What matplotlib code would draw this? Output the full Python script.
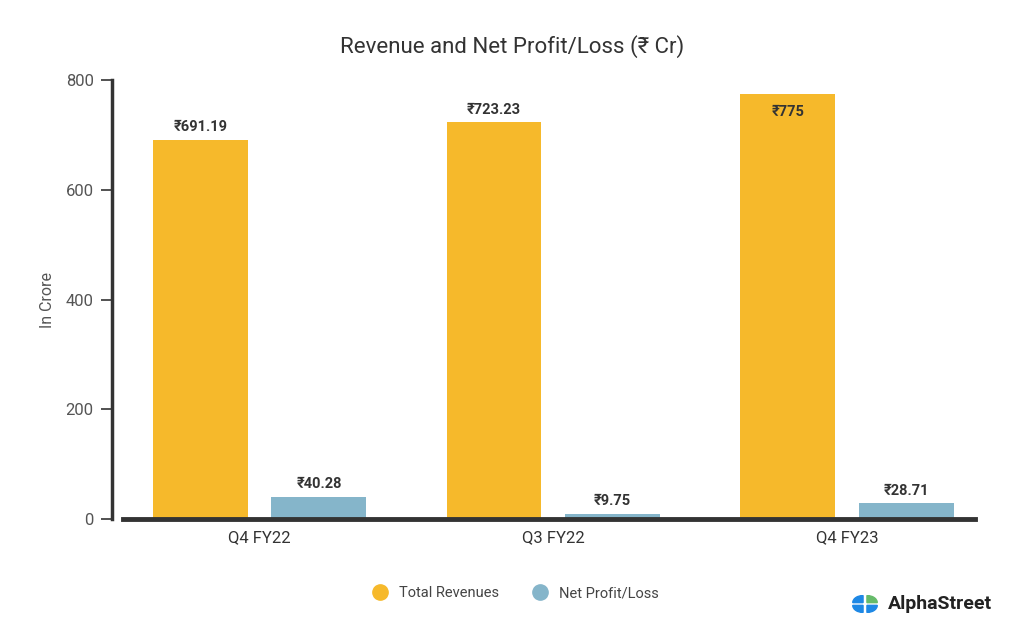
import numpy as np
import matplotlib
matplotlib.use("Agg")
import matplotlib.pyplot as plt
from matplotlib.patches import Wedge
from matplotlib.lines import Line2D

# data
quarters = ["Q4 FY22", "Q3 FY22", "Q4 FY23"]
revenue = [691.19, 723.23, 775]
net_profit = [40.28, 9.75, 28.71]
rev_labels = ["₹691.19", "₹723.23", "₹775"]
np_labels = ["₹40.28", "₹9.75", "₹28.71"]

orange = "#F6B92B"
blue = "#85B5CA"
dark = "#333333"

plt.rcParams['font.family'] = ['Roboto', 'DejaVu Sans']

fig = plt.figure(figsize=(10.24, 6.4), dpi=100)
ax = fig.add_axes([0.1201, 0.189, 0.832, 0.686])

x = np.arange(len(quarters))
w = 0.323
off = 0.202
ax.bar(x - off, revenue, w, color=orange, zorder=2)
ax.bar(x + off, net_profit, w, color=blue, zorder=2)

ax.set_xlim(-0.465, 2.435)
ax.set_ylim(0, 800)

# value labels
for i in range(len(quarters)):
    v = revenue[i]
    if v > 760:
        ax.annotate(rev_labels[i], (x[i] - off, v), xytext=(0, -8), textcoords="offset points",
                    ha="center", va="top", fontsize=10.5, fontweight="bold", color=dark)
    else:
        ax.annotate(rev_labels[i], (x[i] - off, v), xytext=(0, 4), textcoords="offset points",
                    ha="center", va="bottom", fontsize=10.5, fontweight="bold", color=dark)
    ax.annotate(np_labels[i], (x[i] + off, net_profit[i]), xytext=(0, 4), textcoords="offset points",
                ha="center", va="bottom", fontsize=10.5, fontweight="bold", color=dark)

for s in ["top", "right"]:
    ax.spines[s].set_visible(False)
ax.spines["left"].set_position(("outward", 8))
ax.spines["left"].set_linewidth(2.5)
ax.spines["left"].set_color(dark)
ax.spines["bottom"].set_linewidth(3.5)
ax.spines["bottom"].set_color(dark)

ax.set_yticks([0, 200, 400, 600, 800])
ax.tick_params(axis="y", length=8, width=1.2, color=dark, labelsize=12, labelcolor="#555555", pad=5)
ax.set_xticks(x)
ax.set_xticklabels(quarters)
ax.tick_params(axis="x", length=0, labelsize=12, labelcolor=dark, pad=8)
ax.set_ylabel("In Crore", fontsize=11.5, color="#555555", labelpad=8)

fig.text(0.5, 0.928, "Revenue and Net Profit/Loss (₹ Cr)", ha="center", va="center",
         fontsize=16, color=dark)

handles = [Line2D([], [], marker="o", ls="", ms=11, color=orange, label="Total Revenues"),
           Line2D([], [], marker="o", ls="", ms=11, color=blue, label="Net Profit/Loss")]
fig.legend(handles=handles, loc="center", bbox_to_anchor=(0.5, 0.073), ncol=2, frameon=False,
           fontsize=10.5, labelcolor="#444444", handletextpad=0.3, columnspacing=1.8)

# AlphaStreet logo
lax = fig.add_axes([852 / 1024, 1 - 613 / 640, 26 / 1024, 18 / 640])
lax.set_xlim(-1.2, 1.2)
lax.set_ylim(-1.2, 1.2)
lax.axis("off")
lb = "#1E88E5"
g = 0.18
for (dx, dy, t1, t2, c) in [(-1, 1, 90, 180, lb), (-1, -1, 180, 270, lb),
                            (1, 1, 0, 90, "#66BB6A"), (1, -1, 270, 360, lb)]:
    lax.add_patch(Wedge((dx * g, dy * g), 0.95, t1, t2, color=c))
fig.text(888 / 1024, 1 - 604 / 640, "AlphaStreet", ha="left", va="center",
         fontsize=14, fontweight="semibold", color="#222222")

fig.savefig("out.png", dpi=100, facecolor="white")
